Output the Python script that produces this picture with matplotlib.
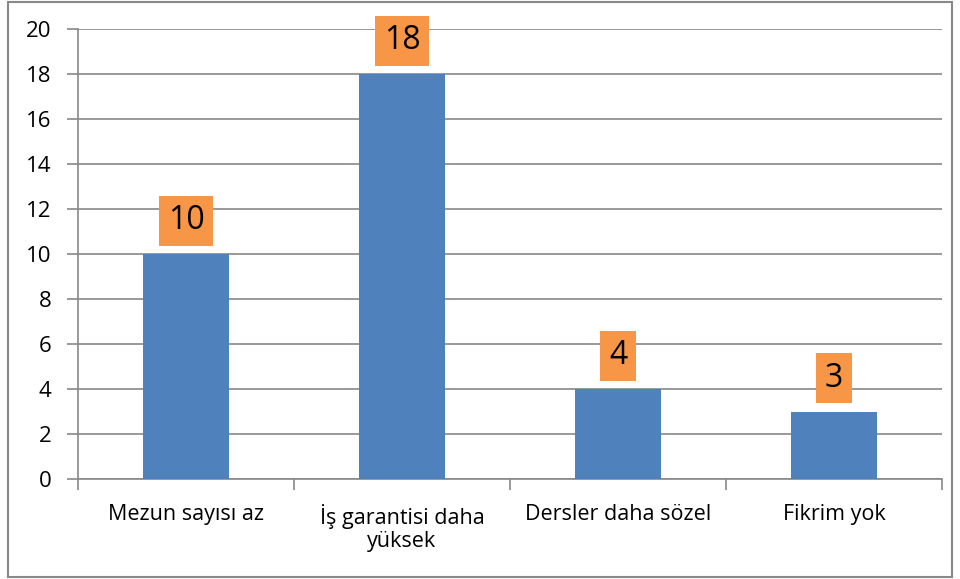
import numpy as np
import matplotlib.pyplot as plt
import matplotlib.patches as mpatches

plt.rcParams['font.family'] = ['Open Sans', 'DejaVu Sans']

categories = ["Mezun sayısı az", "İş garantisi daha\nyüksek", "Dersler daha sözel", "Fikrim yok"]
values = [10, 18, 4, 3]
yticks = [0, 2, 4, 6, 8, 10, 12, 14, 16, 18, 20]

BAR_COLOR = "#4F81BD"
LABEL_BG = "#F79646"
GRID = "#888888"

fig = plt.figure(figsize=(9.6, 5.79), dpi=100)
ax = fig.add_axes([78/960, 100/579, 864/960, 450/579])

x = np.arange(len(categories))
bars = ax.bar(x, values, width=0.395, color=BAR_COLOR, zorder=3)

for bar, v in zip(bars, values):
    ax.annotate(str(v), (bar.get_x() + bar.get_width()/2, v),
                xytext=(0, 12), textcoords="offset points",
                ha="center", va="bottom", fontsize=23, color="black",
                bbox=dict(boxstyle="square,pad=0.27", fc=LABEL_BG, ec="none"),
                zorder=4)

ax.set_xlim(-0.5, len(categories) - 0.5)
ax.set_ylim(0, 20)
ax.set_yticks(yticks)
ax.set_yticklabels([str(t) for t in yticks], fontsize=16)
ax.grid(axis="y", color=GRID, linewidth=1.2, zorder=0)

# category boundaries as ticks, labels in the middle
ax.set_xticks(np.arange(len(categories) + 1) - 0.5)
ax.set_xticklabels([])
ax.set_xticks(x, minor=True)
ax.set_xticklabels(categories, minor=True, fontsize=15.5, linespacing=1.15)
ax.tick_params(axis="x", which="minor", length=0, pad=18)
ax.tick_params(axis="x", which="major", length=8, width=1.2, color=GRID, direction="out")
ax.tick_params(axis="y", length=8, width=1.2, color=GRID, direction="out", pad=11)

for s in ["top", "right"]:
    ax.spines[s].set_visible(False)
for s in ["left", "bottom"]:
    ax.spines[s].set_color(GRID)
    ax.spines[s].set_linewidth(1.2)

# outer chart border
fig.patches.append(mpatches.Rectangle((8/960, 2/579), 944/960, 575/579,
                                      transform=fig.transFigure, fill=False,
                                      ec="#888888", lw=1.5))

plt.savefig("out.png", dpi=100)
